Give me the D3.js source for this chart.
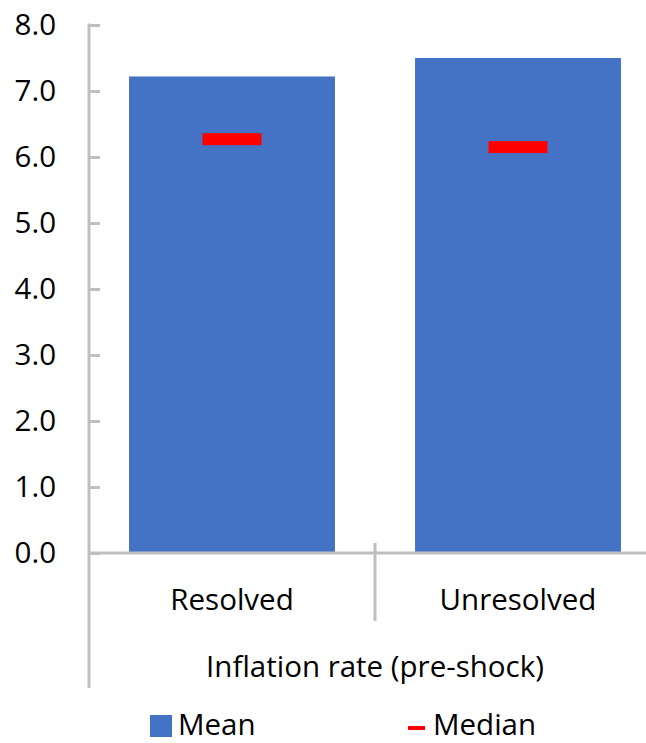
<!DOCTYPE html>
<html><head><meta charset="utf-8">
<script src="https://cdn.jsdelivr.net/npm/d3@7"></script>
<style>body{margin:0;background:#fff}svg{display:block}text{font-family:"Segoe UI","Open Sans",sans-serif;fill:#000}</style>
</head><body><svg id="c" width="646" height="743"></svg>
<script>
const categories = ["Resolved", "Unresolved"];
const meanValues = [7.22, 7.50];
const medianValues = [6.27, 6.15];
const yTicks = [0, 1, 2, 3, 4, 5, 6, 7, 8];
const axisTitle = "Inflation rate (pre-shock)";
const legendLabels = ["Mean", "Median"];

const svg = d3.select("#c");
const x0 = 89, yTop = 25, yBot = 553, catW = 286;
const x = d3.scaleBand().domain(categories).range([x0, x0 + catW * categories.length]).paddingInner(0.28).paddingOuter(0.14);
const y = d3.scaleLinear().domain([0, 8]).range([yBot, yTop]);
const fs = 29.5;
const grey = "#BFBFBF";

// bars
svg.selectAll("rect.bar").data(categories).join("rect")
  .attr("x", d => x(d)).attr("width", x.bandwidth())
  .attr("y", (d, i) => y(meanValues[i])).attr("height", (d, i) => y(0) - y(meanValues[i]))
  .attr("fill", "#4472C4");
// medians
const mw = 59, mh = 12;
svg.selectAll("rect.med").data(categories).join("rect")
  .attr("x", d => x(d) + x.bandwidth() / 2 - mw / 2).attr("width", mw)
  .attr("y", (d, i) => y(medianValues[i]) - mh / 2).attr("height", mh)
  .attr("fill", "#FF0000");

// y axis
const yAxis = d3.axisRight(y).tickValues(yTicks).tickSize(11).tickFormat("");
const ga = svg.append("g").attr("transform", `translate(${x0},0)`).call(yAxis);
ga.select(".domain").remove();
ga.selectAll(".tick line").attr("stroke", grey).attr("stroke-width", 3);
svg.append("line").attr("x1", x0).attr("x2", x0).attr("y1", yTop - 1.5).attr("y2", 688).attr("stroke", grey).attr("stroke-width", 3);
svg.selectAll("text.yl").data(yTicks).join("text")
  .attr("x", 56).attr("y", d => y(d)).attr("dy", "0.35em").attr("text-anchor", "end")
  .attr("font-size", fs).text(d => d.toFixed(1));

// x axis
svg.append("line").attr("x1", x0).attr("x2", 646).attr("y1", yBot).attr("y2", yBot).attr("stroke", grey).attr("stroke-width", 3);
svg.append("line").attr("x1", x0 + catW).attr("x2", x0 + catW).attr("y1", 543).attr("y2", 621).attr("stroke", grey).attr("stroke-width", 3);
svg.selectAll("text.xl").data(categories).join("text")
  .attr("x", d => x(d) + x.bandwidth() / 2).attr("y", 610).attr("text-anchor", "middle")
  .attr("font-size", fs).text(d => d);
svg.append("text").attr("x", x0 + catW).attr("y", 677).attr("text-anchor", "middle").attr("font-size", fs).text(axisTitle);

// legend
svg.append("rect").attr("x", 150).attr("y", 715).attr("width", 22).attr("height", 22).attr("fill", "#4472C4");
svg.append("text").attr("x", 178).attr("y", 735).attr("font-size", fs).text(legendLabels[0]);
svg.append("rect").attr("x", 408).attr("y", 726).attr("width", 17).attr("height", 4).attr("fill", "#FF0000");
svg.append("text").attr("x", 433).attr("y", 735).attr("font-size", fs).text(legendLabels[1]);
</script></body></html>
